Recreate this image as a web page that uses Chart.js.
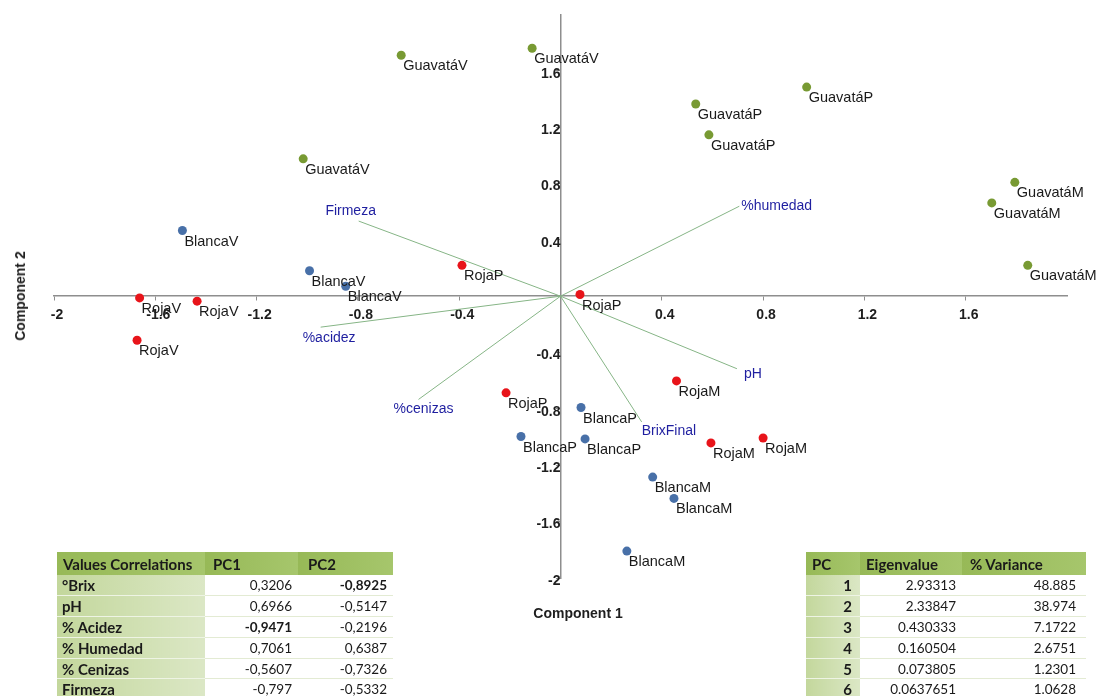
<!DOCTYPE html>
<html>
<head>
<meta charset="utf-8">
<title>PCA biplot</title>
<script src="https://cdn.jsdelivr.net/npm/chart.js@4/dist/chart.umd.min.js"></script>
<style>
  html, body { margin: 0; padding: 0; background: #fff; }
  #wrap { position: relative; width: 1098px; height: 696px; overflow: hidden; }
  #plot { position: absolute; left: 0; top: 0; }
  .axis-title {
    position: absolute;
    font-family: "Liberation Sans", Arial, sans-serif;
    font-weight: bold;
    font-size: 14px;
    color: #1e1e1e;
    white-space: nowrap;
  }
  #xTitle { left: 578px; top: 613px; transform: translate(-50%, -50%); }
  #yTitle { left: 20px; top: 296px; transform: translate(-50%, -50%) rotate(-90deg); }
  table.stats {
    position: absolute;
    border-collapse: collapse;
    font-family: Lato, "Open Sans", sans-serif;
    font-size: 13.5px;
    color: #1a1a1a;
    table-layout: fixed;
  }
  table.stats tr { height: 20.8px; }
  table.stats tr.hdr { height: 23px; }
  table.stats th {
    background: linear-gradient(to right, #97b957, #a6c66c);
    font-weight: bold;
    font-size: 15px;
    text-align: left;
    padding: 0 0 0 6px;
  }
  table.stats td {
    padding: 0 6px 0 0;
    text-align: right;
    border-bottom: 1px solid #e3ebd3;
    background: #fff;
  }
  table.stats td.head {
    text-align: left;
    padding: 0 0 0 5px;
    font-weight: bold;
    font-size: 15px;
    background: linear-gradient(to right, #c3d79c, #dbe7c5);
    border-bottom: 1px solid #eef4e4;
  }
  table.stats td.num-head {
    text-align: right;
    padding: 0 8px 0 0;
    font-weight: bold;
    font-size: 15px;
    background: linear-gradient(to right, #c3d79c, #dbe7c5);
    border-bottom: 1px solid #eef4e4;
  }
  table.stats td.strong { font-weight: bold; }
  #corr { left: 57px; top: 552px; width: 336px; }
  #eig { left: 806px; top: 552px; width: 280px; }
</style>
</head>
<body>
<div id="wrap">
  <canvas id="plot" width="1098" height="696"></canvas>
  <div class="axis-title" id="xTitle">Component 1</div>
  <div class="axis-title" id="yTitle">Component 2</div>
  <table class="stats" id="corr"></table>
  <table class="stats" id="eig"></table>
</div>
<script>
// ---- Sample scores on the first two components ----
const guavataNames = ['GuavatáV', 'GuavatáV', 'GuavatáV', 'GuavatáP', 'GuavatáP', 'GuavatáP', 'GuavatáM', 'GuavatáM', 'GuavatáM'];
const guavataPC1   = [-0.629, -0.112, -1.016, 0.534, 0.586, 0.972, 1.794, 1.703, 1.845];
const guavataPC2   = [ 1.710,  1.760,  0.975, 1.364, 1.145, 1.484, 0.808, 0.662, 0.219];

const blancaNames = ['BlancaV', 'BlancaV', 'BlancaV', 'BlancaP', 'BlancaP', 'BlancaP', 'BlancaM', 'BlancaM', 'BlancaM'];
const blancaPC1   = [-1.493, -0.991, -0.848,  0.081, -0.156,  0.097,  0.364,  0.448,  0.262];
const blancaPC2   = [ 0.466,  0.181,  0.071, -0.790, -0.996, -1.013, -1.284, -1.435, -1.809];

const rojaNames = ['RojaV', 'RojaV', 'RojaV', 'RojaP', 'RojaP', 'RojaP', 'RojaM', 'RojaM', 'RojaM'];
const rojaPC1   = [-1.662, -1.435, -1.672, -0.389, 0.077, -0.215, 0.458,  0.594,  0.800];
const rojaPC2   = [-0.012, -0.035, -0.313,  0.219, 0.012, -0.686, -0.601, -1.041, -1.006];

// ---- Variable loadings drawn as vectors from the origin ----
const loadNames = ['Firmeza', '%acidez', '%cenizas', '%humedad', 'pH', 'BrixFinal'];
const loadPC1   = [-0.797, -0.9471, -0.5607, 0.7061,  0.6966,  0.3206];
const loadPC2   = [ 0.5332, -0.2196, -0.7326, 0.6387, -0.5147, -0.8925];

// ---- Axis ticks ----
const xTickValues = [-2, -1.6, -1.2, -0.8, -0.4, 0.4, 0.8, 1.2, 1.6];
const yTickValues = [1.6, 1.2, 0.8, 0.4, -0.4, -0.8, -1.2, -1.6, -2];

// ---- Correlation table ----
const corrHeader = ['Values Correlations', 'PC1', 'PC2'];
const corrVars   = ['°Brix', 'pH', '% Acidez', '% Humedad', '% Cenizas', 'Firmeza'];
const corrPC1    = ['0,3206', '0,6966', '-0,9471', '0,7061', '-0,5607', '-0,797'];
const corrPC2    = ['-0,8925', '-0,5147', '-0,2196', '0,6387', '-0,7326', '-0,5332'];

// ---- Eigenvalue table ----
const eigHeader   = ['PC', 'Eigenvalue', '% Variance'];
const eigPC       = ['1', '2', '3', '4', '5', '6'];
const eigValues   = ['2.93313', '2.33847', '0.430333', '0.160504', '0.073805', '0.0637651'];
const eigVariance = ['48.885', '38.974', '7.1722', '2.6751', '1.2301', '1.0628'];

// ---------------------------------------------------------------
function toPoints(xs, ys, names) {
  return xs.map((x, i) => ({ x: x, y: ys[i], name: names[i] }));
}

const scoreStyle = { pointRadius: 4.5, pointHoverRadius: 4.5, borderWidth: 0, showLine: false };
const vectorColor = '#86b586';

const datasets = [
  Object.assign({ label: 'Guavatá', data: toPoints(guavataPC1, guavataPC2, guavataNames),
                  backgroundColor: '#789a33', borderColor: '#789a33' }, scoreStyle),
  Object.assign({ label: 'Blanca', data: toPoints(blancaPC1, blancaPC2, blancaNames),
                  backgroundColor: '#4870a8', borderColor: '#4870a8' }, scoreStyle),
  Object.assign({ label: 'Roja', data: toPoints(rojaPC1, rojaPC2, rojaNames),
                  backgroundColor: '#e8141a', borderColor: '#e8141a' }, scoreStyle)
];
loadNames.forEach((n, i) => {
  datasets.push({
    label: n,
    data: [{ x: 0, y: 0 }, { x: loadPC1[i], y: loadPC2[i], name: n }],
    showLine: true,
    borderColor: vectorColor,
    borderWidth: 1,
    pointRadius: 0,
    pointHoverRadius: 0,
    isVector: true
  });
});

// Text for each sample, set just below and right of its dot
const scoreLabels = {
  id: 'scoreLabels',
  afterDatasetsDraw(chart) {
    const ctx = chart.ctx;
    ctx.save();
    ctx.font = '14.5px "Liberation Sans", Arial, sans-serif';
    ctx.fillStyle = '#1a1a1a';
    ctx.textAlign = 'left';
    ctx.textBaseline = 'middle';
    chart.data.datasets.forEach((ds, di) => {
      if (ds.isVector) return;
      chart.getDatasetMeta(di).data.forEach((el, i) => {
        ctx.fillText(ds.data[i].name, el.x + 2, el.y + 11);
      });
    });
    ctx.restore();
  }
};

// Variable names at the tips of the loading vectors
const vectorPlacement = {
  'Firmeza':   { align: 'center', dx: -8, dy: -10 },
  '%acidez':   { align: 'left',   dx: -18, dy: 11 },
  '%cenizas':  { align: 'center', dx: 5,  dy: 10 },
  '%humedad':  { align: 'left',   dx: 2,  dy: 0 },
  'pH':        { align: 'left',   dx: 7,  dy: 5 },
  'BrixFinal': { align: 'left',   dx: 0,  dy: 9 }
};
const vectorLabels = {
  id: 'vectorLabels',
  afterDatasetsDraw(chart) {
    const ctx = chart.ctx;
    ctx.save();
    ctx.font = '14px "Liberation Sans", Arial, sans-serif';
    ctx.fillStyle = '#1f1fa0';
    ctx.textBaseline = 'middle';
    chart.data.datasets.forEach((ds, di) => {
      if (!ds.isVector) return;
      const tip = chart.getDatasetMeta(di).data[1];
      const p = vectorPlacement[ds.label];
      ctx.textAlign = p.align;
      ctx.fillText(ds.label, tip.x + p.dx, tip.y + p.dy);
    });
    ctx.restore();
  }
};

const tickFont = { family: '"Liberation Sans", Arial, sans-serif', size: 14, weight: 'bold' };
const axisGray = '#8e8e8e';

new Chart(document.getElementById('plot'), {
  type: 'scatter',
  data: { datasets: datasets },
  options: {
    responsive: false,
    animation: false,
    events: [],
    layout: { padding: { left: 54, right: 31, top: 10, bottom: 118 } },
    plugins: { legend: { display: false }, tooltip: { enabled: false } },
    scales: {
      x: {
        type: 'linear',
        min: -2, max: 2,
        position: { y: 0 },
        afterBuildTicks: s => { s.ticks = xTickValues.map(v => ({ value: v })); },
        border: { display: true, color: axisGray, width: 1.5 },
        grid: { drawOnChartArea: false, drawTicks: true, tickLength: 4, color: axisGray },
        ticks: { font: tickFont, color: '#1e1e1e', padding: 7, labelOffset: 3, maxRotation: 0, autoSkip: false,
                 callback: v => String(v) }
      },
      y: {
        type: 'linear',
        min: -2, max: 2,
        position: { x: 0 },
        afterBuildTicks: s => { s.ticks = yTickValues.map(v => ({ value: v })); },
        border: { display: true, color: axisGray, width: 1.5 },
        grid: { drawOnChartArea: false, drawTicks: true, tickLength: 4, color: axisGray },
        ticks: { font: tickFont, color: '#1e1e1e', padding: 6, labelOffset: 3, autoSkip: false,
                 callback: v => String(v) }
      }
    }
  },
  plugins: [scoreLabels, vectorLabels]
});

// ---- Tables ----
function numberOf(s) { return parseFloat(s.replace(',', '.')); }
function maxAbsIndex(col) {
  let best = 0;
  col.forEach((s, i) => { if (Math.abs(numberOf(s)) > Math.abs(numberOf(col[best]))) best = i; });
  return best;
}

(function buildCorr() {
  const t = document.getElementById('corr');
  const widths = [148, 93, 95];
  let html = '<colgroup>' + widths.map(w => '<col style="width:' + w + 'px">').join('') + '</colgroup>';
  html += '<tr class="hdr">' + corrHeader.map((h, i) => '<th' + (i === 2 ? ' style="padding-left:10px"' : (i === 1 ? ' style="padding-left:8px"' : '')) + '>' + h + '</th>').join('') + '</tr>';
  const b1 = maxAbsIndex(corrPC1), b2 = maxAbsIndex(corrPC2);
  corrVars.forEach((v, i) => {
    html += '<tr><td class="head">' + v + '</td>' +
            '<td' + (i === b1 ? ' class="strong"' : '') + '>' + corrPC1[i] + '</td>' +
            '<td' + (i === b2 ? ' class="strong"' : '') + '>' + corrPC2[i] + '</td></tr>';
  });
  t.innerHTML = html;
})();

(function buildEig() {
  const t = document.getElementById('eig');
  const widths = [54, 102, 124];
  let html = '<colgroup>' + widths.map(w => '<col style="width:' + w + 'px">').join('') + '</colgroup>';
  html += '<tr class="hdr">' + eigHeader.map((h, i) => '<th' + (i === 2 ? ' style="padding-left:8px"' : '') + '>' + h + '</th>').join('') + '</tr>';
  eigPC.forEach((p, i) => {
    html += '<tr><td class="num-head">' + p + '</td><td>' + eigValues[i] +
            '</td><td style="padding-right:10px">' + eigVariance[i] + '</td></tr>';
  });
  t.innerHTML = html;
})();
</script>
</body>
</html>
